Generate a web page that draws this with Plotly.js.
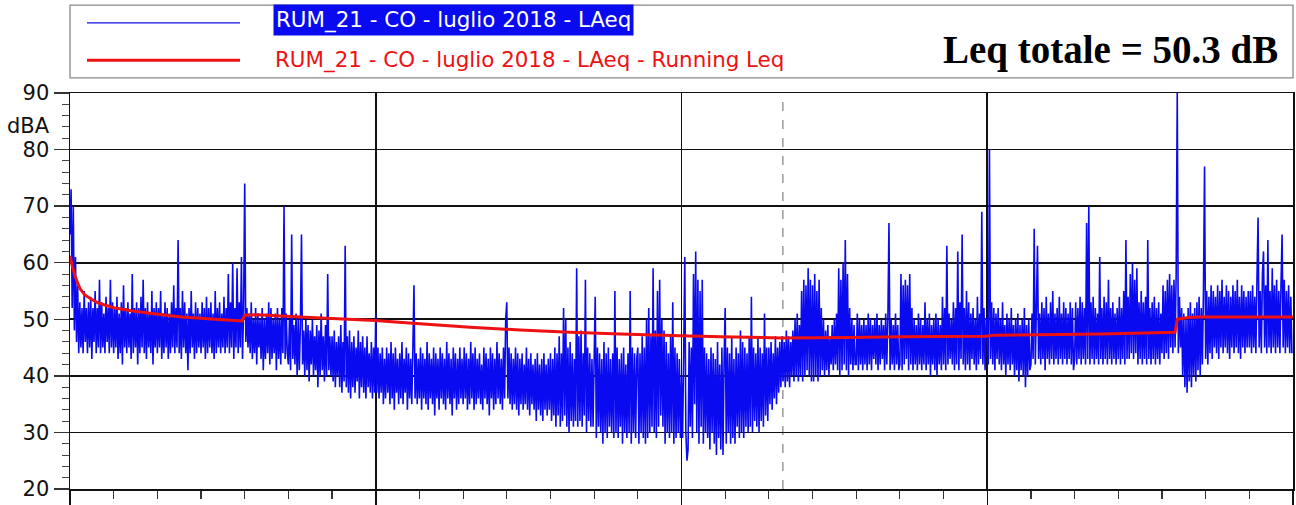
<!DOCTYPE html>
<html>
<head>
<meta charset="utf-8">
<script src="https://cdn.plot.ly/plotly-3.0.1.min.js"></script>
<style>
html,body{margin:0;padding:0;background:#fff;}
#chart{width:1296px;height:505px;}
</style>
</head>
<body>
<div id="chart"></div>
<script>
var samplesPerDay = 40;
var seriesName = "RUM_21 - CO - luglio 2018 - LAeq";
var runningName = "RUM_21 - CO - luglio 2018 - LAeq - Running Leq";
var totalLabel = "Leq totale = 50.3 dB";

var week1 = [
  65,73,52,70,48,61,46,56,44,53, 45,52,44,55,46,52,44,53,45,54, 43,52,46,55,44,52,45,57,44,53, 45,51,44,54,46,52,44,57,45,53,
  44,52,45,54,43,51,44,53,42,56, 45,52,44,53,45,51,43,58,44,52, 45,53,42,52,44,54,45,57,44,52, 43,53,45,51,44,55,42,52,45,53,
  44,52,45,55,43,51,44,53,45,52, 43,51,44,53,45,56,44,52,45,64, 44,52,43,55,45,53,44,51,41,52, 44,55,45,51,43,53,44,52,45,51,
  44,53,45,52,43,54,44,52,45,53, 44,51,43,55,44,52,45,53,44,51, 45,54,44,52,45,58,44,53,45,60, 43,52,45,59,44,53,45,61,43,52,
  74,46,52,45,51,44,53,43,50,44, 52,42,51,45,50,43,52,41,50,43, 51,44,53,42,52,43,50,44,51,41, 52,43,50,42,52,44,70,43,51,44,
  42,50,41,65,43,49,42,51,40,50, 41,49,65,42,48,40,50,41,49,39, 48,42,50,40,47,41,49,38,48,40, 51,41,47,39,49,40,58,41,47,40,
  47,39,48,38,46,40,47,38,49,37, 46,39,63,38,47,37,48,36,46,38, 47,37,45,39,48,36,46,38,47,37, 45,36,47,38,44,37,46,36,45,37
];
var week2 = [
  51,37,45,36,44,37,45,35,43,36, 45,37,44,35,46,36,44,34,45,37, 43,35,44,36,46,35,43,37,45,34, 44,36,43,35,45,56,36,44,35,43,
  36,45,34,44,36,43,35,46,34,44, 36,43,35,45,33,44,36,43,34,45, 36,44,35,43,34,46,36,44,35,43, 33,45,36,44,34,43,35,45,36,43,
  35,45,36,44,34,43,35,46,36,44, 34,45,35,43,36,44,35,42,34,45, 36,44,35,43,33,45,36,44,34,43, 35,46,36,44,35,43,34,45,36,50,
  53,36,45,35,44,34,43,35,45,34, 44,33,43,35,44,34,42,35,45,34, 43,33,44,35,42,34,43,32,44,34, 42,33,43,32,44,34,42,33,43,34,
  44,32,43,33,45,31,44,33,47,31, 44,32,52,33,50,31,45,30,46,32, 44,31,43,32,59,31,47,32,48,31, 44,33,57,30,45,32,44,31,43,31,
  43,54,29,45,31,44,30,43,28,46, 30,44,29,45,31,43,30,44,29,55, 30,45,29,43,31,44,28,45,30,42, 29,44,30,55,28,45,30,44,29,43,
  45,28,44,30,47,29,45,28,50,29, 52,30,47,31,59,30,48,29,55,31, 57,33,50,31,48,28,46,30,44,29, 47,30,53,28,45,29,44,30,43,29
];
var week3 = [
  40,29,44,61,30,25,27,46,31,45, 29,58,35,62,30,57,28,55,31,57, 28,45,30,44,29,43,27,45,30,44, 28,43,26,46,29,42,27,45,26,43,
  52,28,45,30,44,28,47,29,43,28, 45,31,44,29,48,30,46,29,45,31, 44,30,47,31,54,30,45,32,44,31, 47,30,45,32,44,31,51,33,45,32,
  45,35,46,34,44,36,47,35,45,37, 46,38,47,39,46,38,48,39,47,38, 46,40,48,39,50,40,51,39,49,40, 55,39,57,40,56,41,59,40,57,39,
  56,39,58,40,55,39,57,40,52,41, 50,40,48,41,49,40,47,42,49,41, 50,42,51,41,59,40,57,41,60,42, 64,41,58,40,52,42,50,41,49,42,
  42,51,41,50,42,49,41,50,42,49, 41,51,42,50,41,49,43,50,42,51, 41,49,42,50,43,49,41,51,42,50, 67,41,50,42,49,41,51,42,49,41,
  42,58,41,56,42,57,43,56,41,58, 42,52,41,50,42,49,41,51,42,50, 41,49,42,53,41,50,42,51,40,49, 42,50,41,51,40,50,42,49,41,54,
  42,52,41,63,42,51,43,50,42,53, 41,52,42,62,41,53,43,65,42,52, 41,55,42,53,41,51,43,52,42,50, 41,54,42,51,43,69,42,52,41,50
];
var week4 = [
  50,42,80,43,53,42,52,41,51,43, 52,42,50,41,53,42,49,40,51,42, 50,41,52,42,49,40,50,41,51,39, 49,41,50,40,52,38,49,40,50,41,
  42,51,43,66,42,52,63,43,51,42, 53,43,52,41,54,43,51,42,53,43, 55,42,51,43,52,42,54,43,51,42, 53,43,52,42,51,43,53,42,52,41,
  43,53,42,52,43,54,42,53,43,52, 42,67,43,70,42,53,43,54,42,52, 43,51,42,61,43,52,42,54,43,53, 42,57,43,52,42,53,43,51,42,52,
  43,54,42,52,43,55,42,64,43,54, 43,58,44,60,43,57,44,59,42,53, 43,55,42,53,43,54,42,64,43,52, 42,53,43,54,42,52,43,53,42,51,
  44,56,43,55,44,57,43,58,45,56, 44,57,45,58,90,44,54,45,52,40, 51,38,50,37,52,39,53,38,51,40, 52,39,53,41,54,40,52,42,55,77,
  43,55,42,54,44,56,43,55,45,54, 44,56,43,55,45,57,44,54,45,56, 44,55,43,54,45,56,44,55,45,57, 44,54,43,56,45,55,44,54,45,55,
  45,55,44,56,45,54,44,57,68,45, 55,44,58,62,45,56,44,64,45,55, 44,59,45,56,44,57,45,55,44,56, 65,45,57,44,55,45,56,44,54,44
];

var leqDays = [0,0.05,0.12,0.23,0.34,0.5,0.64,0.85,1.03,1.4,1.79,2.2,2.56,3.0,3.32,3.94,4.0,4.3,5.27,6.98,8.01,9.16,10.3,11.45,12.6,13.97,14.9,16.3,17.86,19.0,20.95,21.2,23.6,25.3,25.35,25.6,25.87,28];
var leqValues = [61.2,59.5,57.5,55.4,54.3,53.5,52.9,52.4,52.0,51.5,51.1,50.7,50.4,50.2,50.0,49.7,50.7,50.8,50.4,49.8,49.2,48.6,48.1,47.7,47.4,47.1,46.9,46.7,46.8,46.9,47.0,47.2,47.4,47.7,50.0,50.3,50.4,50.4];

var markerDay = 16.32;   // dashed vertical marker
var yTickVals = [20,30,40,50,60,70,80,90];

// ---- Build traces ----
var laeq = week1.concat(week2, week3, week4);
var tDays = laeq.map(function(_, i){ return i / samplesPerDay; });

var traceBlue = {
  x: tDays, y: laeq, type: 'scatter', mode: 'lines',
  line: {color: '#0a0af0', width: 1.6, simplify: false}, showlegend: false, hoverinfo: 'skip'
};
var traceRed = {
  x: leqDays, y: leqValues, type: 'scatter', mode: 'lines',
  line: {color: '#ee1111', width: 3, simplify: false}, showlegend: false, hoverinfo: 'skip'
};

var font = "DejaVu Sans, Arial, sans-serif";
var layout = {
  width: 1296, height: 505,
  margin: {l: 70, r: 3, t: 93, b: 16, pad: 0},
  paper_bgcolor: '#fff', plot_bgcolor: '#fff',
  showlegend: false,
  xaxis: {
    range: [0, 28], tick0: 0, dtick: 7,
    showticklabels: false, ticks: 'outside', ticklen: 16, tickwidth: 1.5, tickcolor: '#111',
    showgrid: true, gridcolor: '#111', gridwidth: 1.6,
    minor: {dtick: 1, tick0: 0, ticks: 'outside', ticklen: 8, tickwidth: 1.2, tickcolor: '#333', showgrid: false},
    showline: true, linecolor: '#111', linewidth: 1.5, mirror: true, zeroline: false, fixedrange: true
  },
  yaxis: {
    range: [20, 90], tickvals: yTickVals, ticktext: yTickVals.map(String),
    ticks: 'outside', ticklen: 15, tickwidth: 1.3, tickcolor: '#333',
    tickfont: {family: font, size: 21, color: '#111'},
    showgrid: true, gridcolor: '#111', gridwidth: 1.6,
    minor: {dtick: 2, tick0: 20, ticks: 'outside', ticklen: 7, tickwidth: 1, tickcolor: '#444', showgrid: false},
    showline: true, linecolor: '#111', linewidth: 1.5, mirror: true, zeroline: false, fixedrange: true
  },
  shapes: [
    {type: 'line', xref: 'x', yref: 'paper', x0: markerDay, x1: markerDay, y0: 0, y1: 1,
     line: {color: '#999', width: 1.5, dash: 'dash'}, layer: 'below'},
    {type: 'rect', xref: 'paper', yref: 'paper', x0: 0, x1: 1.0, y0: 1.038, y1: 1.222,
     line: {color: '#888', width: 1.3}, fillcolor: 'rgba(0,0,0,0)'},
    {type: 'line', xref: 'paper', yref: 'paper', x0: 0.0139, x1: 0.139, y0: 1.177, y1: 1.177,
     line: {color: '#1010e6', width: 1.3}},
    {type: 'line', xref: 'paper', yref: 'paper', x0: 0.0139, x1: 0.139, y0: 1.083, y1: 1.083,
     line: {color: '#ee1111', width: 3}}
  ],
  annotations: [
    {xref: 'paper', yref: 'paper', x: 0.166, y: 1.184, xanchor: 'left', yanchor: 'middle',
     text: seriesName, showarrow: false, bgcolor: '#0a0af0', borderpad: 2,
     font: {family: font, size: 21.4, color: '#fff'}},
    {xref: 'paper', yref: 'paper', x: 0.166, y: 1.083, xanchor: 'left', yanchor: 'middle',
     text: runningName, showarrow: false,
     font: {family: font, size: 21.4, color: '#ee1111'}},
    {xref: 'paper', yref: 'paper', x: 0.9894, y: 1.109, xanchor: 'right', yanchor: 'middle',
     text: '<b>' + totalLabel + '</b>', showarrow: false,
     font: {family: 'Liberation Serif, Times New Roman, serif', size: 39, color: '#000'}},
    {xref: 'paper', yref: 'paper', x: -0.0147, y: 0.917, xanchor: 'right', yanchor: 'middle',
     text: 'dBA', showarrow: false,
     font: {family: font, size: 21, color: '#111'}}
  ]
};

Plotly.newPlot('chart', [traceBlue, traceRed], layout, {staticPlot: true, displayModeBar: false});
</script>
</body>
</html>
